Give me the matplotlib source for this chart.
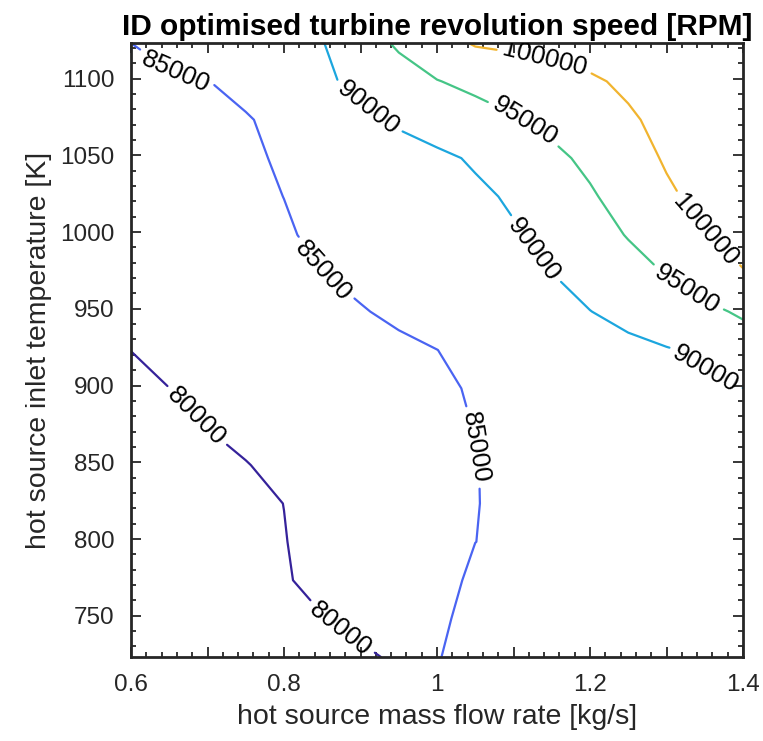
import matplotlib.pyplot as plt
from matplotlib.ticker import MultipleLocator, FuncFormatter

plt.rcParams['font.family'] = ['Liberation Sans', 'DejaVu Sans']

# hot source mass flow rate [kg/s] (grid columns)
mass_flow = [0.60, 0.65, 0.70, 0.75, 0.80, 0.85, 0.90, 0.95, 1.00,
             1.05, 1.10, 1.15, 1.20, 1.25, 1.30, 1.35, 1.40]
# hot source inlet temperature [K] (grid rows)
t_inlet = [723.15, 748.15, 773.15, 798.15, 823.15, 848.15, 873.15, 898.15, 923.15,
           948.15, 973.15, 998.15, 1023.15, 1048.15, 1073.15, 1098.15, 1123.15]

# optimised turbine speed [RPM], one row per inlet temperature
rpm = [
    [76500, 77000, 77500, 77950, 78400, 78800, 79200, 80700, 84960, 85300, 85450, 85600, 85750, 85900, 86050, 86230, 86400],
    [76600, 77260, 77920, 78580, 79240, 79890, 81330, 82910, 84700, 85500, 85700, 85880, 86050, 86220, 86380, 86540, 86700],
    [76800, 77540, 78280, 79020, 79760, 80780, 81930, 83070, 84220, 85400, 85600, 85820, 86050, 86280, 86510, 86750, 87000],
    [77000, 77730, 78460, 79180, 79910, 80900, 81930, 82950, 83980, 84990, 85340, 85690, 86030, 86370, 86710, 87060, 87400],
    [77300, 77980, 78660, 79340, 80020, 80990, 81960, 82940, 83910, 84950, 85360, 85770, 86170, 86580, 86990, 87390, 87800],
    [77800, 78500, 79190, 79890, 80710, 81560, 82410, 83250, 84100, 84950, 85450, 85920, 86400, 86880, 87350, 87830, 88300],
    [78700, 79370, 80040, 80760, 81480, 82200, 82920, 83640, 84350, 85060, 85620, 86180, 86750, 87310, 87870, 88440, 89000],
    [79400, 79990, 80650, 81310, 81960, 82620, 83270, 83930, 84580, 85240, 85920, 86600, 87280, 87960, 88640, 89320, 89980],
    [80020, 80620, 81240, 81870, 82490, 83110, 83730, 84350, 84980, 85770, 86570, 87360, 88160, 88960, 89760, 90600, 92700],
    [80600, 81300, 81990, 82690, 83390, 84090, 84790, 85610, 86470, 87340, 88200, 89070, 89930, 91260, 92640, 94010, 95600],
    [81200, 81950, 82700, 83450, 84200, 84950, 85790, 86630, 87470, 88310, 89140, 89980, 91690, 93410, 95170, 97500, 99800],
    [81800, 82530, 83260, 83990, 84720, 85520, 86350, 87180, 88020, 88850, 89680, 91230, 93210, 95230, 97520, 99820, 101300],
    [82400, 83050, 83710, 84360, 85020, 85880, 86740, 87600, 88470, 89330, 90440, 92460, 94480, 96870, 99400, 101080, 102500],
    [83000, 83540, 84080, 84610, 85280, 86270, 87260, 88250, 89250, 90430, 92200, 93970, 95980, 98320, 100390, 101800, 103200],
    [83700, 84100, 84490, 84700, 86100, 87640, 89170, 90610, 91950, 93290, 94630, 96200, 97870, 99530, 100980, 102340, 103700],
    [84300, 84610, 84920, 86160, 87720, 89280, 91030, 92940, 94850, 96060, 97200, 98350, 99500, 100640, 101800, 102950, 104100],
    [85000, 85970, 86940, 87910, 88880, 89845, 92690, 95680, 98110, 100400, 100900, 101300, 101700, 102300, 103000, 103800, 104400],
]

levels = [80000, 85000, 90000, 95000, 100000]
level_colors = ['#35229a', '#4a64f2', '#1ca6de', '#45c586', '#f1b42f']

fig = plt.figure(figsize=(7.63, 7.41), dpi=100)
ax = fig.add_axes([131 / 763, 1 - 657 / 741, 612 / 763, 614 / 741])

cs = ax.contour(mass_flow, t_inlet, rpm, levels=levels, colors=level_colors, linewidths=1.6)
cs.set_capstyle('round')
cs.set_joinstyle('round')

# rough label spots (nearest contour point is used)
label_spots = [(0.69, 882), (0.873, 741),
               (0.661, 1111), (0.852, 975), (1.052, 860),
               (0.907, 1079), (1.126, 988), (1.353, 913),
               (1.112, 1070), (1.325, 961),
               (1.141, 1113), (1.344, 998)]
ax.clabel(cs, fmt='%d', fontsize=18.5, colors='black', manual=label_spots, inline=True, inline_spacing=6)

ax.set_xlim(0.6, 1.4)
ax.set_ylim(723.15, 1123.15)
ax.xaxis.set_major_locator(MultipleLocator(0.1))
ax.xaxis.set_minor_locator(MultipleLocator(0.02))
ax.yaxis.set_major_locator(MultipleLocator(50))
ax.yaxis.set_minor_locator(MultipleLocator(10))
ax.xaxis.set_major_formatter(FuncFormatter(lambda v, p: '%g' % round(v, 1) if round(v * 10) % 2 == 0 else ''))

dark = '#262626'
ax.tick_params(which='both', direction='in', top=True, right=True, colors=dark, labelsize=17.5, width=1.3)
ax.tick_params(which='major', length=7, pad=12)
ax.tick_params(which='minor', length=3.5)
for s in ax.spines.values():
    s.set_linewidth(2)
    s.set_color(dark)

ax.set_xlabel('hot source mass flow rate [kg/s]', fontsize=20.5, color=dark, labelpad=6)
ax.set_ylabel('hot source inlet temperature [K]', fontsize=20.5, color=dark, labelpad=6)
ax.set_title('ID optimised turbine revolution speed [RPM]', fontsize=21.5, fontweight='bold', pad=6)

fig.savefig('out.png', dpi=100)
